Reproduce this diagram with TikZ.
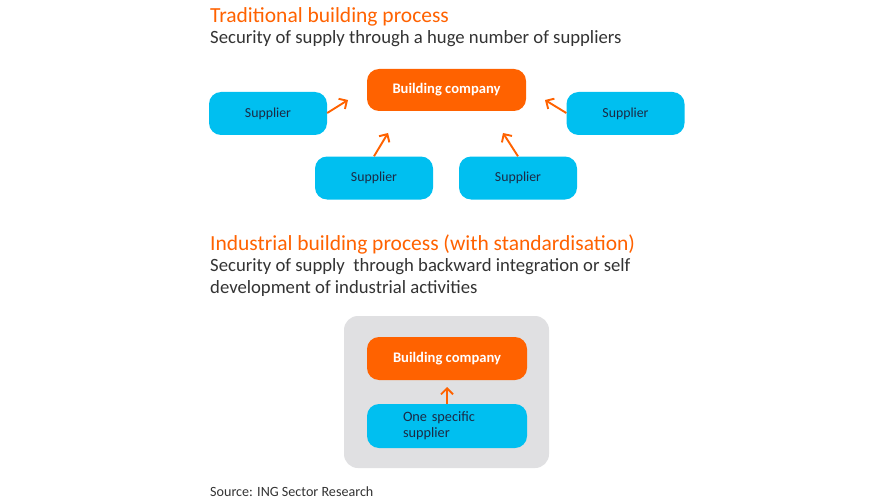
\documentclass[tikz,border=0pt]{standalone}
\usepackage{fontspec}
\setmainfont{Carlito}
\usetikzlibrary{arrows.meta}
\definecolor{ingorange}{HTML}{FF6200}
\definecolor{ingblue}{HTML}{00BFF0}
\definecolor{boxgray}{HTML}{E0E0E2}
\definecolor{txtdark}{HTML}{333333}
\definecolor{navytxt}{HTML}{1B2A45}
\begin{document}
\begin{tikzpicture}[x=1pt,y=-1pt,
  company/.style={fill=ingorange,rounded corners=12pt,text=white,font=\fontsize{14.6}{17}\selectfont\bfseries,minimum width=159pt,minimum height=42pt,inner sep=0pt},
  supplierbox/.style={fill=ingblue,rounded corners=12pt,text=navytxt,font=\fontsize{13.8}{15}\selectfont,minimum width=118pt,minimum height=43pt,inner sep=0pt},
  flow/.style={draw=ingorange,line width=1.9pt,-{Straight Barb[length=6pt,width=12pt,line width=1.9pt]}},
  title/.style={anchor=base west,inner sep=0pt,text=ingorange,font=\fontsize{21.5}{24}\selectfont},
  sub/.style={anchor=base west,inner sep=0pt,text=txtdark,font=\fontsize{18.7}{22}\selectfont}
]
\useasboundingbox[fill=white] (0,0) rectangle (875,500);

% --- Traditional
\node[title] (t1) at (210,23) {Traditional building process};
\node[sub] (s1) at (210,44) {Security of supply through a huge number of suppliers};

\node[company] (bc1) at (446.5,90) {Building company};
\node[supplierbox] (sl) at (268,113.5) {Supplier};
\node[supplierbox] (sr) at (625.5,113.5) {Supplier};
\node[supplierbox] (sbl) at (374,178) {Supplier};
\node[supplierbox] (sbr) at (518,178) {Supplier};

\coordinate (al) at (348,100);
\coordinate (ar) at (545,100);
\coordinate (abl) at (388,133);
\coordinate (abr) at (503,133);
\draw[flow] (sl.east |- 0,113) -- (al);
\draw[flow] (sr.west |- 0,113) -- (ar);
\draw[flow] (sbl.north) -- (abl);
\draw[flow] (sbr.north) -- (abr);

% --- Industrial
\node[title] (t2) at (210,250) {Industrial building process (with standardisation)};
\node[sub] (s2a) at (210,271) {Security of supply\ \ through backward integration or self};
\node[sub] (s2b) at (210,293) {development of industrial activities};

\node[fill=boxgray,rounded corners=14pt,minimum width=205pt,minimum height=152pt,inner sep=0pt] (grey) at (446.5,392) {};
\node[company,minimum width=160pt,minimum height=43pt] (bc2) at (447,358.5) {Building company};
\node[supplierbox,minimum width=160pt,minimum height=44pt,inner xsep=36pt,inner ysep=0pt,text width=88pt,align=left,font=\fontsize{14.3}{16}\selectfont] (one) at (447,426) {One specific\\supplier};
\coordinate (atop) at (447,387);
\draw[flow] (one.north) -- (atop);

\node[anchor=base west,inner sep=0pt,text=txtdark,font=\fontsize{14.1}{16}\selectfont] (src) at (210,496) {Source: ING Sector Research};
\end{tikzpicture}
\end{document}
